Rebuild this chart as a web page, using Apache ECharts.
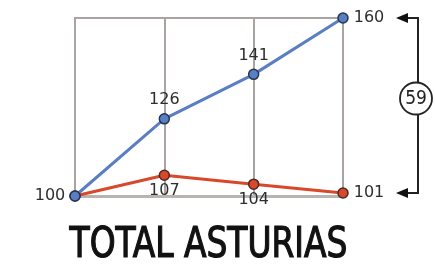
<!DOCTYPE html>
<html>
<head>
<meta charset="utf-8">
<script src="https://cdn.jsdelivr.net/npm/echarts@6/dist/echarts.min.js"></script>
<style>
  html, body { margin: 0; padding: 0; background: #fff; }
  #chart { width: 435px; height: 265px; }
</style>
</head>
<body>
<div id="chart"></div>
<script>
// datos
var periodos = ['P1', 'P2', 'P3', 'P4'];
var serieAzul = [100, 126, 141, 160];
var serieRoja = [100, 107, 104, 101];
var titulo = 'TOTAL ASTURIAS';

var azul = '#5a7ec3';
var rojo = '#d8482a';
var gris = '#a9a3a1';
var texto = '#2e2e2e';
var fuente = 'DejaVu Sans, Liberation Sans';

var myChart = echarts.init(document.getElementById('chart'));

function etiquetasAzul() {
    return serieAzul.map(function (v, i) {
        var pos = 'top';
        if (i === 0) pos = 'left';
        if (i === serieAzul.length - 1) pos = 'right';
        return { value: v, label: { position: pos, distance: i === 0 ? 4 : 5 } };
    });
}

function etiquetasRoja() {
    return serieRoja.map(function (v, i) {
        var item = { value: v, label: { position: 'bottom', distance: 2 } };
        if (i === 0) item.label = { show: false };
        if (i === serieRoja.length - 1) item.label = { position: 'right', distance: 5 };
        return item;
    });
}

var option = {
    animation: false,
    grid: {
        left: 75,
        right: 92,
        top: 18,
        bottom: 69,
        show: true,
        borderColor: gris,
        borderWidth: 2
    },
    xAxis: {
        type: 'category',
        data: periodos,
        boundaryGap: false,
        axisLabel: { show: false },
        axisTick: { show: false },
        axisLine: { show: true, lineStyle: { color: '#b8b4b2', width: 3 } },
        splitLine: { show: true, lineStyle: { color: gris, width: 2 } }
    },
    yAxis: {
        type: 'value',
        min: 100,
        max: 160,
        interval: 60,
        axisLabel: { show: false },
        axisTick: { show: false },
        axisLine: { show: false },
        splitLine: { show: false }
    },
    series: [
        {
            type: 'line',
            data: etiquetasRoja(),
            symbol: 'circle',
            symbolSize: 10,
            z: 3,
            lineStyle: { color: rojo, width: 3 },
            itemStyle: { color: rojo, borderColor: '#4a2a25', borderWidth: 1.5 },
            label: { show: true, color: texto, fontSize: 16, fontFamily: fuente }
        },
        {
            type: 'line',
            data: etiquetasAzul(),
            symbol: 'circle',
            symbolSize: 10,
            z: 4,
            lineStyle: { color: azul, width: 3 },
            itemStyle: { color: azul, borderColor: '#263650', borderWidth: 1.5 },
            label: { show: true, color: texto, fontSize: 16, fontFamily: fuente }
        }
    ]
};
myChart.setOption(option);

// anotación de la diferencia a la derecha
var ultimo = periodos.length - 1;
var pArriba = myChart.convertToPixel({ gridIndex: 0 }, [ultimo, serieAzul[ultimo]]);
var pAbajo = myChart.convertToPixel({ gridIndex: 0 }, [ultimo, serieRoja[ultimo]]);
var xLinea = 418;
var yMedio = (pArriba[1] + pAbajo[1]) / 2 - 7;
var diferencia = serieAzul[ultimo] - serieRoja[ultimo];

myChart.setOption({
    graphic: [
        {
            type: 'text',
            x: 208.5,
            y: 246,
            scaleX: 0.87,
            style: {
                text: titulo,
                fill: '#111',
                stroke: '#111',
                lineWidth: 1.2,
                fontSize: 42,
                fontFamily: 'DejaVu Sans Condensed, DejaVu Sans',
                align: 'center',
                verticalAlign: 'middle'
            }
        },
        {
            type: 'polyline',
            shape: { points: [[406, pArriba[1]], [xLinea, pArriba[1]], [xLinea, yMedio - 16]] },
            style: { stroke: '#222', lineWidth: 2, fill: null }
        },
        {
            type: 'polyline',
            shape: { points: [[xLinea, yMedio + 16], [xLinea, pAbajo[1]], [406, pAbajo[1]]] },
            style: { stroke: '#222', lineWidth: 2, fill: null }
        },
        {
            type: 'polygon',
            shape: { points: [[396, pArriba[1]], [408, pArriba[1] - 5], [408, pArriba[1] + 5]] },
            style: { fill: '#111' }
        },
        {
            type: 'polygon',
            shape: { points: [[396, pAbajo[1]], [408, pAbajo[1] - 5], [408, pAbajo[1] + 5]] },
            style: { fill: '#111' }
        },
        {
            type: 'circle',
            shape: { cx: 416, cy: yMedio, r: 16 },
            style: { fill: '#fff', stroke: '#222', lineWidth: 1.8 }
        },
        {
            type: 'text',
            x: 416,
            y: yMedio + 1,
            style: {
                text: String(diferencia),
                fill: '#222',
                fontSize: 19,
                fontFamily: 'DejaVu Sans Condensed, Liberation Sans',
                align: 'center',
                verticalAlign: 'middle'
            }
        }
    ]
});
</script>
</body>
</html>
